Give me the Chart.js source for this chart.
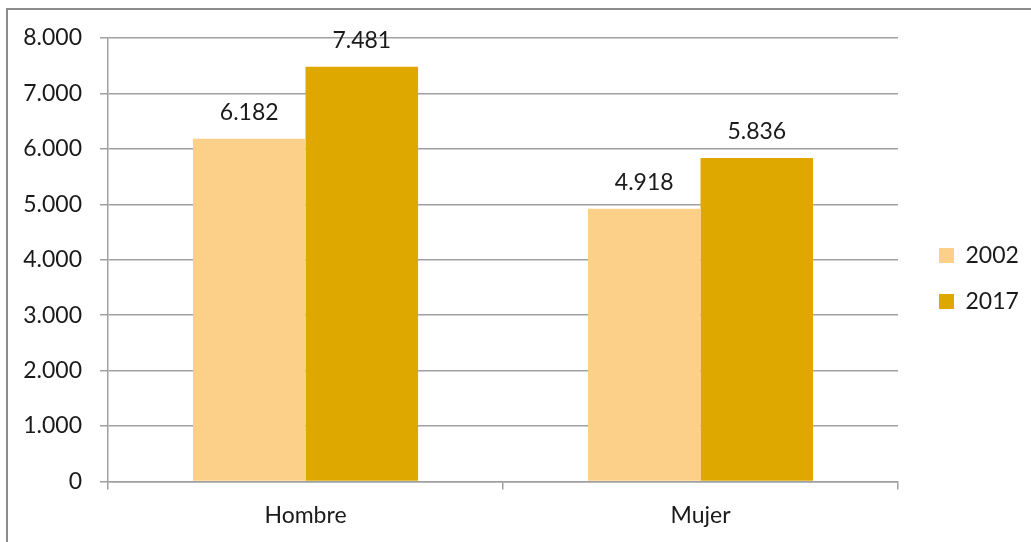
<!DOCTYPE html>
<html>
<head>
<meta charset="utf-8">
<script src="https://cdn.jsdelivr.net/npm/chart.js@4.4.1/dist/chart.umd.min.js"></script>
<style>
  html, body { margin: 0; padding: 0; background: #fff; overflow: hidden; }
  #wrap { position: relative; width: 1031px; height: 542px; }
  #frame { position: absolute; left: 6px; top: 8px; width: 1100px; height: 600px;
           border: 2px solid #8c8c8c; box-sizing: border-box; }
  #chart { position: absolute; left: 0; top: 0; }
</style>
</head>
<body>
<div id="wrap">
  <div id="frame"></div>
  <canvas id="chart" width="1031" height="542"></canvas>
</div>
<script>
const categories = ["Hombre", "Mujer"];
const years = ["2002", "2017"];
const values2002 = [6182, 4918];
const values2017 = [7481, 5836];
const colors = ["#FCD088", "#DFA800"];

function formatNum(v) {
  return v.toString().replace(/\B(?=(\d{3})+(?!\d))/g, ".");
}

// labels above bars
const barLabels = {
  id: "barLabels",
  afterDatasetsDraw(chart) {
    const ctx = chart.ctx;
    ctx.save();
    ctx.font = "23px Lato";
    ctx.fillStyle = "#1a1a1a";
    ctx.textAlign = "center";
    ctx.textBaseline = "alphabetic";
    chart.data.datasets.forEach((ds, i) => {
      chart.getDatasetMeta(i).data.forEach((bar, j) => {
        ctx.fillText(formatNum(ds.data[j]), bar.x, bar.y - 19);
      });
    });
    ctx.restore();
  }
};

// legend: fixed width so the plot ends at the right place, items nudged
const legendPlace = {
  id: "legendPlace",
  afterLayout(chart) {
    chart.legend.left += 18;
    chart.legend.right += 18;
    chart.legend.top -= 11;
    chart.legend.bottom -= 11;
  }
};

const chart = new Chart(document.getElementById("chart"), {
  type: "bar",
  data: {
    labels: categories,
    datasets: [
      { label: years[0], data: values2002, backgroundColor: colors[0] },
      { label: years[1], data: values2017, backgroundColor: colors[1] }
    ]
  },
  options: {
    responsive: false,
    animation: false,
    layout: { padding: { top: 38, left: 0, right: 0, bottom: 1 } },
    datasets: { bar: { categoryPercentage: 0.57, barPercentage: 1.0 } },
    scales: {
      x: {
        grid: { drawOnChartArea: false, drawTicks: true, tickLength: 8, color: "#a0a0a0", lineWidth: 1.5, offset: true },
        border: { color: "#a0a0a0", width: 1.5 },
        ticks: { font: { family: "Lato", size: 23 }, color: "#1a1a1a", padding: 12 }
      },
      y: {
        min: 0, max: 8000,
        afterFit(scale) { scale.width = 108; },
        grid: { color: "#a0a0a0", lineWidth: 1.5, tickLength: 8 },
        border: { color: "#a0a0a0", width: 1.5 },
        ticks: {
          stepSize: 1000,
          font: { family: "Lato", size: 23 }, color: "#1a1a1a", padding: 18,
          callback: v => formatNum(v)
        }
      }
    },
    plugins: {
      legend: {
        position: "right",
        labels: {
          font: { family: "Lato", size: 23 }, color: "#1a1a1a",
          boxWidth: 15, boxHeight: 15, padding: 23
        }
      },
      tooltip: { enabled: false }
    }
  },
  plugins: [barLabels, legendPlace]
});

const origFit = chart.legend.fit;
chart.legend.fit = function () {
  origFit.call(this);
  this.width = 133;
};
chart.update();
</script>
</body>
</html>
